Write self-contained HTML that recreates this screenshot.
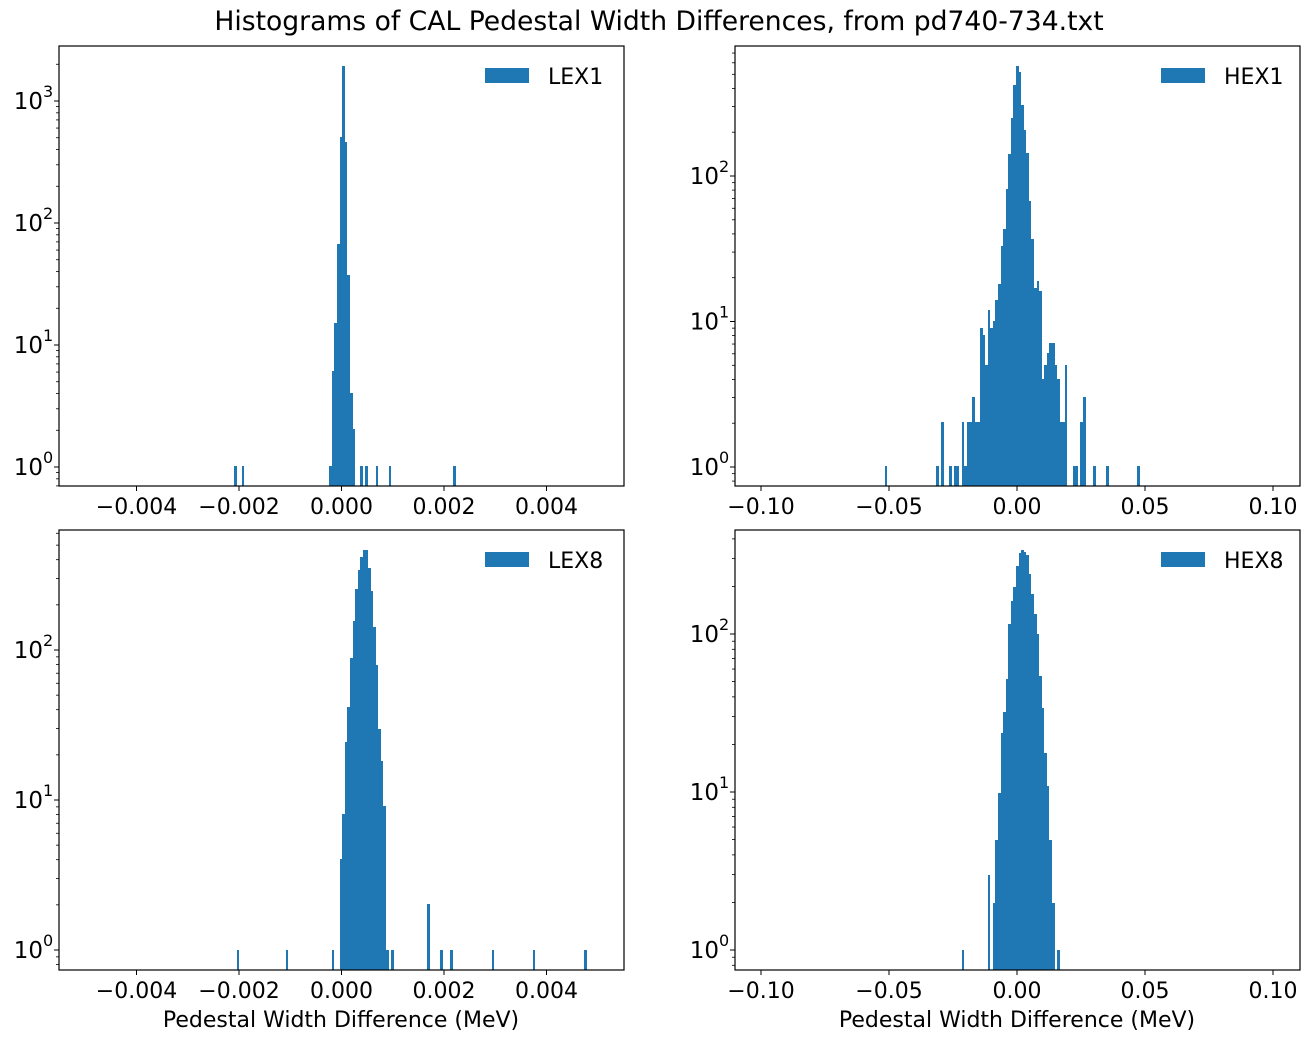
<!DOCTYPE html>
<html><head><meta charset="utf-8"><style>
body{margin:0;background:#fff}
svg text{font-family:"DejaVu Sans","Liberation Sans",sans-serif;fill:#000}
</style></head><body>
<svg id="s" width="1309" height="1041" xmlns="http://www.w3.org/2000/svg">
<text x="659" y="30" font-size="26.6" text-anchor="middle">Histograms of CAL Pedestal Width Differences, from pd740-734.txt</text>
<text x="341" y="1027" font-size="22" text-anchor="middle">Pedestal Width Difference (MeV)</text>
<text x="1017" y="1027" font-size="22" text-anchor="middle">Pedestal Width Difference (MeV)</text>
</svg>
<script>
const S=document.getElementById('s');const NS='http://www.w3.org/2000/svg';
function el(t,a,txt){const e=document.createElementNS(NS,t);for(const k in a)e.setAttribute(k,a[k]);if(txt!==undefined)e.textContent=txt;S.appendChild(e);return e;}
const panels=[
{x0:59,x1:624,y0:46,y1:486,leg:'LEX1',xt:[[136.5,'\u22120.004'],[239,'\u22120.002'],[341.5,'0.000'],[444,'0.002'],[546.5,'0.004']],
 d0:467,sp:122,
 bars:[[234,237,466],[242,244,466],[329,332,466],[332,334,371],[334,337,323],[337,340,244],[340,342,137],[342,345,66],[345,347,142],[347,350,275],[350,353,393],[353,355,429],[360,363,466],[365,368,466],[376,378,466],[389,391,466],[453,456,466]]},
{x0:735,x1:1300,y0:46,y1:486,leg:'HEX1',xt:[[761,'\u22120.10'],[889,'\u22120.05'],[1017,'0.00'],[1145,'0.05'],[1273,'0.10']],
 d0:467,sp:145.5,
 bars:[[885,887,466],[936,939,466],[941,944,422],[949,952,466],[954,959,466],[962,964,422],[964,967,466],[967,972,422],[972,975,397],[975,980,422],[980,983,328],[983,985,335],[985,988,365],[988,990,310],[990,993,328],[993,995,321],[995,998,300],[998,1001,284],[1001,1003,246],[1003,1006,229],[1006,1008,189],[1008,1011,154],[1011,1013,118],[1013,1016,85],[1016,1019,66],[1019,1021,72],[1021,1024,105],[1024,1026,130],[1026,1029,153],[1029,1031,201],[1031,1034,239],[1034,1037,288],[1037,1039,281],[1039,1042,291],[1042,1044,379],[1044,1047,365],[1047,1049,353],[1049,1055,343],[1055,1057,365],[1057,1060,379],[1060,1065,422],[1065,1067,365],[1073,1078,466],[1080,1083,422],[1083,1086,397],[1093,1096,466],[1106,1109,466],[1137,1140,466]]},
{x0:59,x1:624,y0:530,y1:970,leg:'LEX8',xt:[[136.5,'\u22120.004'],[239,'\u22120.002'],[341.5,'0.000'],[444,'0.002'],[546.5,'0.004']],
 d0:950,sp:150,
 bars:[[237,239,950],[286,288,950],[332,334,950],[340,342,859],[342,345,814],[345,347,742],[347,350,707],[350,353,658],[353,355,621],[355,358,589],[358,360,570],[360,363,557],[363,368,550],[368,371,568],[371,373,591],[373,376,627],[376,378,665],[378,381,729],[381,383,761],[383,386,806],[386,389,950],[391,394,950],[427,430,904],[440,443,950],[450,453,950],[492,494,950],[533,535,950],[584,587,950]]},
{x0:735,x1:1300,y0:530,y1:970,leg:'HEX8',xt:[[761,'\u22120.10'],[889,'\u22120.05'],[1017,'0.00'],[1145,'0.05'],[1273,'0.10']],
 d0:950,sp:158,
 bars:[[962,964,950],[988,990,875],[993,995,903],[995,998,840],[998,1001,793],[1001,1003,733],[1003,1006,712],[1006,1008,679],[1008,1011,624],[1011,1013,601],[1013,1016,587],[1016,1019,566],[1019,1021,553],[1021,1024,550],[1024,1026,552],[1026,1029,555],[1029,1031,574],[1031,1034,594],[1034,1037,614],[1037,1039,634],[1039,1042,676],[1042,1044,708],[1044,1047,753],[1047,1049,786],[1049,1052,840],[1052,1055,903],[1057,1060,950]]}
];
for(const p of panels){
 for(const b of p.bars) el('rect',{x:b[0],y:b[2],width:b[1]-b[0],height:p.y1-b[2],fill:'#1f77b4'});
 el('rect',{x:p.x0,y:p.y0,width:p.x1-p.x0,height:p.y1-p.y0,fill:'none',stroke:'#000','stroke-width':1.2});
 for(const [x,t] of p.xt){el('line',{x1:x,x2:x,y1:p.y1,y2:p.y1+5,stroke:'#000','stroke-width':1});
  el('text',{x:x,y:p.y1+28,'font-size':22,'text-anchor':'middle'},t);}
 for(let d=-1;d<=4;d++){
  for(let k=1;k<=9;k++){const y=p.d0-p.sp*(d+Math.log10(k));
   if(y<p.y0||y>p.y1)continue;
   const L=k==1?5:3;el('line',{x1:p.x0-L,x2:p.x0,y1:y,y2:y,stroke:'#000','stroke-width':k==1?1:0.8});
   if(k==1){el('text',{x:p.x0-16,y:y+8,'font-size':23,'text-anchor':'end'},'10');
    el('text',{x:p.x0-16,y:y-4,'font-size':16},String(d));}
  }
 }
 el('rect',{x:p.x1-139,y:p.y0+22,width:44,height:15,fill:'#1f77b4'});
 el('text',{x:p.x1-76,y:p.y0+38,'font-size':22},p.leg);
}
</script>
</body></html>
